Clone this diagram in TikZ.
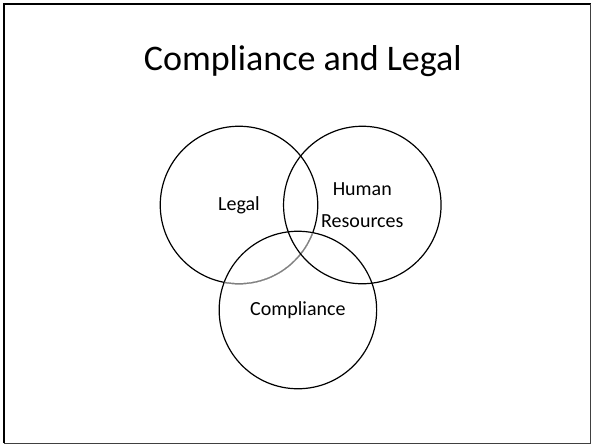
\documentclass[tikz,border=0pt]{standalone}
\usepackage{fontspec}
\setmainfont{Carlito}
\begin{document}
\begin{tikzpicture}[x=1pt,y=-1pt,
  ring/.style={draw=black,line width=1.2pt,circle,minimum size=157.5pt,inner sep=0pt},
  lbl/.style={font=\fontsize{20}{32}\selectfont,align=center,inner sep=0pt}]
\useasboundingbox (0,0) rectangle (592,445);
% frame
\draw[line width=1.6pt,black] (3.8,443) -- (3.8,3.8) -- (590.5,3.8);
\draw[line width=1pt,black!75] (3.8,443) -- (590.5,443) -- (590.5,3.8);
% title
\node[font=\fontsize{36}{40}\selectfont,inner sep=0pt] (title) at (302.8,61) {Compliance and Legal};
% circles
\node[ring] (legal) at (239,205) {};
\node[ring] (comp) at (297.9,310) {};
\begin{scope}
  \clip (comp.center) circle (78.1);
  \draw[line width=1.4pt,white] (legal.center) circle (78.75);
  \draw[line width=1.2pt,black!50] (legal.center) circle (78.75);
\end{scope}
\node[ring] (hr) at (362.3,205) {};
% labels
\node[lbl] (legaltxt) at (legal.center) {Legal};
\node[lbl] (hrtxt) at (hr.center) {Human\\Resources};
\node[lbl] (comptxt) at (comp.center) {Compliance};
\end{tikzpicture}
\end{document}
